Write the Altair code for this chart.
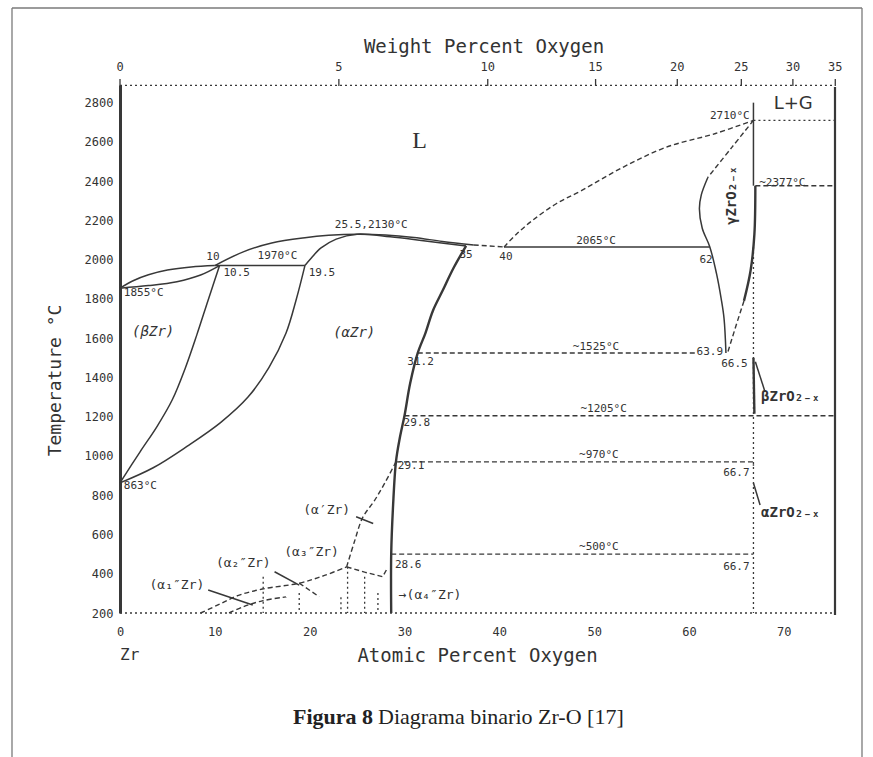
import altair as alt
import pandas as pd

# ---------------- data (atomic % O, temperature °C) ----------------
X_DOMAIN = [0, 75.4]
Y_DOMAIN = [200, 2890]

y_ticks = [200, 400, 600, 800, 1000, 1200, 1400, 1600, 1800, 2000, 2200, 2400, 2600, 2800]
x_ticks = [0, 10, 20, 30, 40, 50, 60, 70]
wt_ticks = [0, 5, 10, 15, 20, 25, 30, 35]

# solid thin boundaries (curved)
liq_beta = [(0, 1855), (1.5, 1895), (3, 1923), (5, 1947), (7.5, 1963), (10, 1970)]
sol_beta = [(0, 1855), (3, 1868), (6, 1888), (8.5, 1922), (10.5, 1970)]
beta_solvus = [(10.5, 1970), (9.3, 1795), (8.1, 1617), (6.9, 1450), (5.5, 1285), (3.9, 1150),
               (2.1, 1020), (0, 863)]
alpha_solvus = [(19.5, 1970), (18.6, 1800), (17.5, 1625), (15.7, 1450), (13.5, 1300), (10.6, 1170),
                (7.1, 1050), (3.5, 940), (0, 863)]
liq_alpha = [(10, 1970), (13, 2040), (16, 2085), (19.5, 2112), (22, 2124), (25, 2130), (28, 2126),
             (31, 2113), (34, 2093), (37.3, 2075)]
sol_alpha = [(19.5, 1970), (20.2, 2010), (21.2, 2060), (22.8, 2105), (25, 2130), (28.5, 2117),
             (32, 2097), (36.5, 2070)]
gamma_left = [(62, 2420), (61.3, 2330), (61.1, 2260), (61.4, 2160), (62.2, 2065), (62.9, 1930),
              (63.4, 1800), (63.7, 1700), (63.9, 1525)]

# solid thin straight segments
peritectic = [(10, 1970), (19.5, 1970)]
eutectic = [(40.5, 2065), (62.2, 2065)]
zro2_top = [(66.8, 2800), (66.8, 2377)]
lead_a1 = [(9.3, 317), (14.0, 241)]
lead_a2 = [(16.3, 410), (18.9, 342)]
lead_ap = [(24.9, 690), (26.7, 656)]
lead_beta = [(67.0, 1480), (68.0, 1330)]
lead_alpha = [(66.8, 862), (67.5, 750)]

# solid thick boundaries
alpha_right = [(36.5, 2070), (35.2, 1960), (34, 1840), (33, 1740), (32.2, 1625), (31.4, 1525),
               (30.6, 1370), (30, 1205), (29.5, 1090), (29.1, 970), (28.8, 750), (28.6, 500), (28.6, 200)]
gamma_right = [(67.0, 2377), (66.9, 2130), (66.5, 1945), (65.8, 1790)]
beta_zro2 = [(66.8, 1500), (66.9, 1215)]
right_edge = [(75.4, 190), (75.4, 2880)]

# dashed boundaries (curved)
liq_zro2 = [(40.5, 2065), (41.8, 2130), (43.5, 2200), (46, 2285), (48.7, 2353), (53, 2470),
            (57.6, 2573), (62.8, 2643), (66.8, 2710)]
gamma_top = [(66.8, 2710), (64.5, 2571), (62, 2420)]
alpha_prime = [(29.1, 970), (27.9, 860), (26.8, 770), (25.6, 687), (24.7, 560), (23.9, 435)]
alpha2_curve = [(8.5, 200), (10.5, 245), (12.5, 290), (15, 322), (18.9, 352), (21.5, 390), (23.9, 435)]
alpha2_low = [(11.5, 200), (13, 232), (15, 262), (17.5, 282)]

# dashed straight segments / isotherms
liq_tail = [(37.3, 2075), (40.5, 2065)]
gamma_right_d = [(65.8, 1790), (65.0, 1670), (64.1, 1530)]
iso_2377 = [(67.0, 2377), (75.4, 2377)]
iso_1525 = [(31.4, 1525), (60.8, 1525)]
iso_1205 = [(30, 1205), (75.4, 1205)]
iso_970 = [(29.1, 970), (66.8, 970), (66.8, 950)]
iso_500 = [(28.6, 500), (66.8, 500)]
v_curve = [(23.9, 435), (25.8, 408), (27.7, 385), (28.1, 420)]
dash_a2 = [(18.9, 352), (21, 283)]

# dotted lines
iso_2710 = [(66.8, 2710), (75.4, 2710)]
bottom_200 = [(0, 200), (75.4, 200)]
top_line = [(0, 2888), (75.4, 2888)]
v_667 = [(66.8, 2065), (66.8, 200)]
v_151 = [(15.1, 385), (15.1, 200)]
v_189 = [(18.9, 302), (18.9, 200)]
v_233 = [(23.3, 280), (23.3, 200)]
v_240 = [(24.0, 436), (24.0, 200)]
v_258 = [(25.8, 385), (25.8, 200)]
v_272 = [(27.2, 302), (27.2, 200)]

# labels
num_text = ["1855°C", "863°C", "31.2", "29.8", "29.1", "28.6"]
num_x = [0.4, 0.4, 30.3, 29.9, 29.3, 29.0]
num_y = [1828, 845, 1477, 1167, 948, 444]

mid_text = ["10", "10.5", "1970°C", "19.5", "25.5,2130°C", "35", "40", "2065°C", "62",
            "~1525°C", "63.9", "66.5", "~1205°C", "~970°C", "66.7", "~500°C", "66.7"]
mid_x = [9.8, 12.3, 16.6, 21.3, 26.5, 36.5, 40.7, 50.2, 61.8,
         50.2, 62.2, 64.8, 51.0, 50.5, 65.0, 50.5, 65.0]
mid_y = [2012, 1930, 2020, 1930, 2175, 2022, 2012, 2093, 2000,
         1556, 1530, 1470, 1238, 1004, 912, 536, 434]

r_text = ["2710°C"]
r_x = [66.4]
r_y = [2732]
l2_text = ["~2377°C"]
l2_x = [67.4]
l2_y = [2392]

phase_text = ["(βZr)", "(αZr)"]
phase_x = [3.5, 24.7]
phase_y = [1630, 1625]

low_text = ["(α₁″Zr)", "(α₂″Zr)", "(α₃″Zr)", "(α′Zr)"]
low_x = [6.0, 13.0, 20.2, 21.8]
low_y = [342, 453, 512, 725]
a4_text = ["→(α₄″Zr)"]
a4_x = [29.4]
a4_y = [292]

oxide_text = ["βZrO₂₋ₓ", "αZrO₂₋ₓ"]
oxide_x = [67.6, 67.6]
oxide_y = [1299, 709]
gamma_text = ["γZrO₂₋ₓ"]
gamma_x = [64.5]
gamma_y = [2327]

big_text = ["L"]
big_x = [31.6]
big_y = [2607]
lg_text = ["L+G"]
lg_x = [71.0]
lg_y = [2795]

# ---------------- styling ----------------
INK = "#383838"
TXT = "#333333"
MONO = "DejaVu Sans Mono"

xs = alt.Scale(domain=X_DOMAIN, nice=False, zero=False)
ys = alt.Scale(domain=Y_DOMAIN, nice=False, zero=False)

X_AXIS = alt.Axis(
    values=x_ticks, domain=False, ticks=False, grid=False, labelFlush=False,
    labelFont=MONO, labelFontSize=12, labelColor=TXT, labelPadding=13, format="d",
    title="Atomic Percent Oxygen", titleFont=MONO, titleFontSize=19,
    titleFontWeight="normal", titleColor=TXT, titleX=357, titleY=42,
    titleAlign="center", titleBaseline="middle")
Y_AXIS = alt.Axis(
    values=y_ticks, domain=True, domainWidth=3, domainColor=INK, ticks=False,
    grid=False, labelFlush=False, labelFont=MONO, labelFontSize=12, format="d",
    labelColor=TXT, labelPadding=7,
    title="Temperature °C", titleFont=MONO, titleFontSize=18,
    titleFontWeight="normal", titleColor=TXT, titleX=-65, titleY=295,
    titleAlign="center", titleBaseline="middle", titleAngle=270)

XE = alt.X("x:Q", scale=xs, axis=X_AXIS)
YE = alt.Y("y:Q", scale=ys, axis=Y_AXIS)


def segs(named):
    rows = []
    for name, pts in named.items():
        for i, (x, y) in enumerate(pts):
            rows.append({"seg": name, "i": i, "x": x, "y": y})
    return pd.DataFrame(rows)


def line_layer(named, width, dash=None, interp="linear"):
    kw = dict(strokeWidth=width, color=INK, clip=False, strokeCap="butt",
              interpolate=interp)
    if dash:
        kw["strokeDash"] = dash
    return alt.Chart(segs(named)).mark_line(**kw).encode(
        x=XE, y=YE, detail="seg:N", order="i:Q")


def text_layer(texts, xv, yv, size, font=MONO, align="center", weight="normal",
               style="normal", angle=0):
    df = pd.DataFrame({"t": texts, "x": xv, "y": yv})
    kw = dict(font=font, fontSize=size, align=align, baseline="middle",
              color=TXT, fontWeight=weight, fontStyle=style)
    if angle:
        kw["angle"] = angle
    return alt.Chart(df).mark_text(**kw).encode(x=XE, y=YE, text="t:N")


CR = "catmull-rom"
solid_c = line_layer(dict(liq_beta=liq_beta, sol_beta=sol_beta, beta_solvus=beta_solvus,
                          alpha_solvus=alpha_solvus, liq_alpha=liq_alpha, sol_alpha=sol_alpha,
                          gamma_left=gamma_left), 1.5, interp=CR)
solid_s = line_layer(dict(peritectic=peritectic, eutectic=eutectic, zro2_top=zro2_top,
                          lead_a1=lead_a1, lead_a2=lead_a2, lead_ap=lead_ap,
                          lead_beta=lead_beta, lead_alpha=lead_alpha), 1.5)
thick = line_layer(dict(alpha_right=alpha_right, gamma_right=gamma_right,
                        beta_zro2=beta_zro2), 2.4, interp=CR)
edge = line_layer(dict(right_edge=right_edge), 2.2)
dashed_c = line_layer(dict(liq_zro2=liq_zro2, gamma_top=gamma_top, alpha_prime=alpha_prime,
                           alpha2_curve=alpha2_curve, alpha2_low=alpha2_low),
                      1.4, dash=[5, 3], interp=CR)
dashed_s = line_layer(dict(liq_tail=liq_tail, gamma_right_d=gamma_right_d, iso_2377=iso_2377,
                           iso_1525=iso_1525, iso_1205=iso_1205, iso_970=iso_970,
                           iso_500=iso_500, v_curve=v_curve, dash_a2=dash_a2),
                      1.4, dash=[5, 3])
dotted = line_layer(dict(iso_2710=iso_2710, bottom_200=bottom_200, top_line=top_line,
                         v_667=v_667, v_151=v_151, v_189=v_189, v_233=v_233, v_240=v_240,
                         v_258=v_258, v_272=v_272), 1.3, dash=[2, 3])


# top (weight percent) axis: oxygen weight % converted to atomic % (Zr 91.22, O 16.00)
def wt_to_at(w):
    return (w / 16.0) / ((w / 16.0) + (100.0 - w) / 91.22) * 100.0


wt_df = pd.DataFrame({"w": [str(w) for w in wt_ticks], "x": [wt_to_at(w) for w in wt_ticks]})
top_labels = alt.Chart(wt_df).mark_text(font=MONO, fontSize=12, color=TXT, baseline="middle").encode(
    x=XE, y=alt.value(-18), text="w:N")
top_ticks = alt.Chart(wt_df).mark_rule(color=INK, strokeWidth=1.3).encode(
    x=XE, y=alt.value(-6), y2=alt.value(1))
one = pd.DataFrame({"a": [0]})
top_title = alt.Chart(one).mark_text(font=MONO, fontSize=19, color=TXT, baseline="middle",
                                     text="Weight Percent Oxygen").encode(
    x=alt.value(364), y=alt.value(-38))
zr_label = alt.Chart(one).mark_text(font=MONO, fontSize=16, color=TXT, baseline="middle",
                                    align="left", text="Zr").encode(
    x=alt.value(0), y=alt.value(570))

# page decoration: frame and caption
GRAY = "#7a7a7a"
frame_left = alt.Chart(one).mark_rule(color=GRAY, strokeWidth=1.3).encode(
    x=alt.value(-108), y=alt.value(-77), y2=alt.value(680))
frame_top = alt.Chart(one).mark_rule(color=GRAY, strokeWidth=1.3).encode(
    x=alt.value(-108), x2=alt.value(742), y=alt.value(-77))
frame_right = alt.Chart(one).mark_rule(color=GRAY, strokeWidth=1.3).encode(
    x=alt.value(742), y=alt.value(-77), y2=alt.value(680))
cap_bold = alt.Chart(one).mark_text(font="Liberation Serif", fontSize=22, fontWeight="bold",
                                    color="#222", align="left", baseline="middle",
                                    text="Figura 8").encode(x=alt.value(173), y=alt.value(632))
cap_rest = alt.Chart(one).mark_text(font="Liberation Serif", fontSize=22, color="#222",
                                    align="left", baseline="middle",
                                    text="Diagrama binario Zr-O [17]").encode(
    x=alt.value(258), y=alt.value(632))

texts = [
    text_layer(num_text, num_x, num_y, 11, align="left"),
    text_layer(mid_text, mid_x, mid_y, 11),
    text_layer(r_text, r_x, r_y, 11, align="right"),
    text_layer(l2_text, l2_x, l2_y, 11, align="left"),
    text_layer(phase_text, phase_x, phase_y, 14, style="italic"),
    text_layer(low_text, low_x, low_y, 13),
    text_layer(a4_text, a4_x, a4_y, 13, align="left"),
    text_layer(oxide_text, oxide_x, oxide_y, 14, align="left", weight="bold"),
    text_layer(gamma_text, gamma_x, gamma_y, 14, weight="bold", angle=270),
    text_layer(big_text, big_x, big_y, 24, font="Liberation Serif"),
    text_layer(lg_text, lg_x, lg_y, 18, font="DejaVu Sans"),
]

chart = alt.layer(
    solid_c, solid_s, thick, edge, dashed_c, dashed_s, dotted, top_labels, top_ticks,
    top_title, zr_label, frame_left, frame_top, frame_right, cap_bold, cap_rest, *texts
).properties(
    width=715, height=528, autosize="none",
    padding={"left": 120, "top": 85, "right": 38, "bottom": 144},
    background="white",
).configure_view(stroke=None)

chart.save("out.html", embed_options={"renderer": "svg", "actions": False})
